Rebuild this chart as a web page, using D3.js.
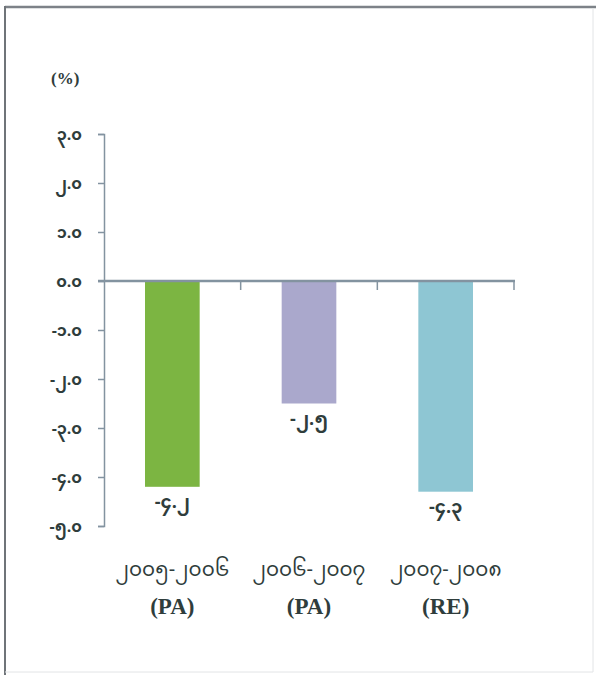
<!DOCTYPE html>
<html>
<head>
<meta charset="utf-8">
<script src="https://cdn.jsdelivr.net/npm/d3@7"></script>
<style>
  html, body { margin: 0; padding: 0; background: #ffffff; }
  svg { display: block; }
</style>
</head>
<body>
<script>
// ---- data ----
const categories = ["၂၀၀၅-၂၀၀၆", "၂၀၀၆-၂၀၀၇", "၂၀၀၇-၂၀၀၈"];
const categoryNotes = ["(PA)", "(PA)", "(RE)"];
const values = [-4.2, -2.5, -4.3];
const yTicks = [3, 2, 1, 0, -1, -2, -3, -4, -5];
const unitLabel = "(%)";
const barColors = ["#7cb542", "#aaa8cc", "#8ec6d3"];

const myDigits = "၀၁၂၃၄၅၆၇၈၉";
const toMy = s => s.replace(/[0-9]/g, d => myDigits[+d]);
const fmt = v => toMy(d3.format(".1f")(v)).replace("−", "-");

const myFont = "'Noto Sans Myanmar', 'Padauk', 'Myanmar Text', 'DejaVu Sans', sans-serif";
const serifFont = "'Liberation Serif', 'DejaVu Serif', serif";

const W = 596, H = 675;
const svg = d3.select("body").append("svg").attr("width", W).attr("height", H);

// frame
svg.append("line").attr("x1", 5).attr("x2", 596).attr("y1", 7).attr("y2", 7)
  .attr("stroke", "#7d8288").attr("stroke-width", 2.5);
svg.append("line").attr("x1", 5).attr("x2", 5).attr("y1", 6).attr("y2", 675)
  .attr("stroke", "#6f7479").attr("stroke-width", 2);
svg.append("line").attr("x1", 593).attr("x2", 593).attr("y1", 8).attr("y2", 672)
  .attr("stroke", "#e2e4e6").attr("stroke-width", 1);
svg.append("line").attr("x1", 5).attr("x2", 593).attr("y1", 672).attr("y2", 672)
  .attr("stroke", "#e2e4e6").attr("stroke-width", 1);

const textColor = "#2f3d3c";
const axisColor = "#8393a0";

const y = d3.scaleLinear().domain([-5, 3]).range([526, 134]);
const x = d3.scaleBand().domain(categories).range([104, 514]).padding(0);

// y axis
const yAxis = d3.axisLeft(y).tickValues(yTicks).tickSize(6).tickFormat(fmt).tickPadding(16);
const gy = svg.append("g").attr("transform", "translate(104,0)").call(yAxis);
gy.select(".domain").attr("stroke", axisColor).attr("stroke-width", 1.5);
gy.selectAll(".tick line").attr("stroke", axisColor).attr("stroke-width", 1.5);
gy.selectAll(".tick text").attr("fill", textColor)
  .style("font-family", myFont).style("font-size", "16px").style("font-weight", "bold");

// unit label
svg.append("text").attr("x", 51).attr("y", 84).text(unitLabel)
  .attr("fill", textColor)
  .style("font-family", serifFont).style("font-size", "17px").style("font-weight", "bold");

// bars
const bw = x.bandwidth() * 0.4;
svg.selectAll("rect.bar").data(values).enter().append("rect")
  .attr("class", "bar")
  .attr("x", (d, i) => x(categories[i]) + (x.bandwidth() - bw) / 2)
  .attr("width", bw)
  .attr("y", d => y(Math.max(0, d)))
  .attr("height", d => Math.abs(y(d) - y(0)))
  .attr("fill", (d, i) => barColors[i]);

// x axis (at zero)
svg.append("line").attr("x1", 98).attr("x2", 515).attr("y1", y(0)).attr("y2", y(0))
  .attr("stroke", axisColor).attr("stroke-width", 2.5);
const bounds = categories.map(c => x(c) + x.bandwidth());
svg.selectAll("line.xtick").data(bounds).enter().append("line")
  .attr("class", "xtick")
  .attr("x1", d => d).attr("x2", d => d)
  .attr("y1", y(0)).attr("y2", y(0) + 9)
  .attr("stroke", axisColor).attr("stroke-width", 1.5);

// value labels
svg.selectAll("text.val").data(values).enter().append("text")
  .attr("class", "val")
  .attr("x", (d, i) => x(categories[i]) + x.bandwidth() / 2)
  .attr("y", d => y(d) + 21)
  .attr("text-anchor", "middle")
  .attr("fill", textColor)
  .style("font-family", myFont).style("font-size", "18px").style("font-weight", "bold")
  .text(d => fmt(d));

// category labels
svg.selectAll("text.cat").data(categories).enter().append("text")
  .attr("class", "cat")
  .attr("x", d => x(d) + x.bandwidth() / 2)
  .attr("y", 576)
  .attr("text-anchor", "middle")
  .attr("fill", textColor)
  .style("font-family", myFont).style("font-size", "20px")
  .text(d => d);
svg.selectAll("text.note").data(categoryNotes).enter().append("text")
  .attr("class", "note")
  .attr("x", (d, i) => x(categories[i]) + x.bandwidth() / 2)
  .attr("y", 614)
  .attr("text-anchor", "middle")
  .attr("fill", textColor)
  .style("font-family", serifFont).style("font-size", "23px").style("font-weight", "bold")
  .text(d => d);
</script>
</body>
</html>
